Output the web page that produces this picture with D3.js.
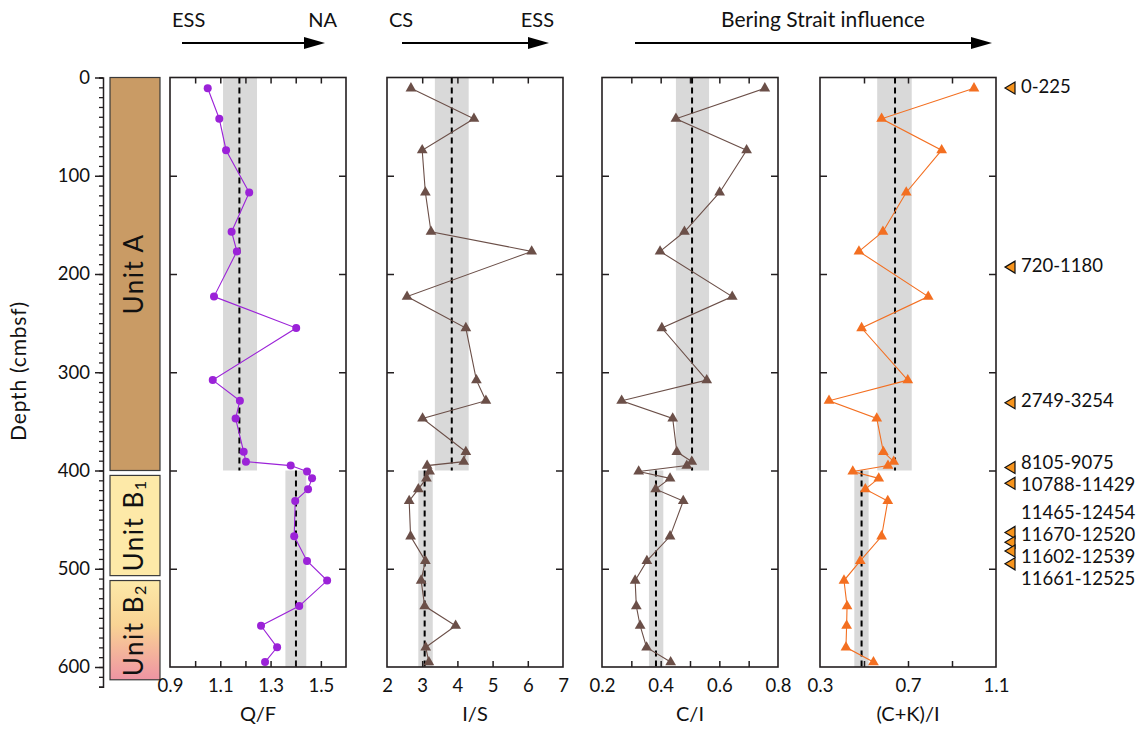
<!DOCTYPE html>
<html>
<head>
<meta charset="utf-8">
<script src="https://cdn.jsdelivr.net/npm/d3@7"></script>
<style>
  html, body { margin: 0; padding: 0; background: #fff; }
  svg { display: block; font-family: Lato, "Open Sans", sans-serif; }
</style>
</head>
<body>
<svg id="chart" width="1146" height="729"></svg>
<script>
// Sample depths (cmbsf), shared by all four proxy records
const depths = [11, 42, 74, 117, 157, 177, 223, 255, 308, 329, 347, 381, 391, 395, 401, 408, 419, 431, 467, 492, 512, 538, 558, 580, 595];

// Proxy records
const qf  = [1.05, 1.096, 1.123, 1.215, 1.145, 1.166, 1.075, 1.402, 1.07, 1.178, 1.161, 1.193, 1.202, 1.38, 1.445, 1.465, 1.449, 1.398, 1.394, 1.445, 1.525, 1.414, 1.262, 1.326, 1.278];
const is  = [2.68, 4.47, 3.0, 3.09, 3.25, 6.11, 2.57, 4.24, 4.54, 4.81, 3.01, 4.24, 4.18, 3.14, 3.21, 3.12, 2.89, 2.63, 2.67, 3.09, 2.97, 3.07, 3.95, 3.1, 3.19];
const ci  = [0.755, 0.452, 0.693, 0.601, 0.481, 0.398, 0.644, 0.404, 0.557, 0.267, 0.441, 0.455, 0.506, 0.489, 0.325, 0.432, 0.383, 0.477, 0.432, 0.353, 0.313, 0.317, 0.33, 0.352, 0.434];
const cki = [1.0, 0.58, 0.853, 0.692, 0.586, 0.477, 0.792, 0.489, 0.699, 0.341, 0.558, 0.588, 0.635, 0.609, 0.449, 0.567, 0.506, 0.608, 0.58, 0.483, 0.409, 0.423, 0.421, 0.418, 0.543];

// Axis titles, domains, tick steps and labelled ticks
const titles     = ["Q/F", "I/S", "C/I", "(C+K)/I"];
const domains    = [[0.9, 1.6], [2, 7], [0.2, 0.8], [0.3, 1.1]];
const tickSteps  = [0.1, 1, 0.1, 0.2];
const tickLabels = [["0.9", "1.1", "1.3", "1.5"], ["2", "3", "4", "5", "6", "7"], ["0.2", "0.4", "0.6", "0.8"], ["0.3", "0.7", "1.1"]];

// Unit means and ranges (Unit A: 0-400 cm, Unit B: 400-600 cm)
const unitAMean  = [1.176, 3.84, 0.507, 0.641];
const unitARange = [[1.111, 1.246], [3.36, 4.32], [0.452, 0.565], [0.56, 0.717]];
const unitBMean  = [1.401, 3.07, 0.384, 0.489];
const unitBRange = [[1.359, 1.442], [2.89, 3.30], [0.360, 0.409], [0.456, 0.521]];
const unitBreaks = [0, 400, 600];

// Lithological units
const unitNames = ["A", "B", "B"];
const unitSubs  = ["", "1", "2"];
const unitTops  = [0, 405, 512];
const unitBots  = [400, 507, 613];

// Radiocarbon ages (cal yr BP) and their depths
const ageLabels = ["0-225", "720-1180", "2749-3254", "8105-9075", "10788-11429", "11465-12454", "11670-12520", "11602-12539", "11661-12525"];
const ageDepths = [10.7, 193, 331, 397, 413, 463, 473, 482, 495];

// Provenance direction headers
const arrowLabelsL = ["ESS", "CS", ""];
const arrowLabelsR = ["NA", "ESS", ""];
const arrowTitle   = ["", "", "Bering Strait influence"];

// ---------------- drawing ----------------
const svg = d3.select("#chart");
const series = [qf, is, ci, cki];
const colors = ["#9b22d8", "#6b4f48", "#6b4f48", "#f36f21"];
const markers = ["circle", "triangle", "triangle", "triangle"];

const panelLefts = [170, 387, 602, 820];
const panelW = 176;
const plotTop = 77.5, plotBottom = 667;

const y = d3.scaleLinear().domain([0, 600]).range([plotTop, plotBottom]);
const yAxisScale = d3.scaleLinear().domain([0, 620]).range([plotTop, y(620)]);

const frameColor = "#231f20";
const textColor = "#111";

// Depth axis
const axisX = 103;
const depthAxis = svg.append("g").attr("transform", `translate(${axisX},0)`);
depthAxis.call(d3.axisLeft(yAxisScale).tickValues(d3.range(0, 621, 10)).tickSize(4).tickFormat(""))
  .call(g => g.selectAll("line").attr("stroke", frameColor).attr("stroke-width", 1.3))
  .call(g => g.select(".domain").attr("stroke", frameColor).attr("stroke-width", 1.5));
depthAxis.append("g").call(d3.axisLeft(yAxisScale).tickValues(d3.range(0, 601, 100)).tickSize(8).tickPadding(5))
  .call(g => g.select(".domain").remove())
  .call(g => g.selectAll("line").attr("stroke", frameColor).attr("stroke-width", 1.5))
  .call(g => g.selectAll("text").attr("font-size", 18.5).attr("fill", textColor).attr("font-family", "Lato, sans-serif"));

svg.append("text")
  .attr("transform", `translate(21,371) rotate(-90)`)
  .attr("text-anchor", "middle").attr("dominant-baseline", "middle")
  .attr("font-size", 21).attr("letter-spacing", 0.8).attr("fill", textColor)
  .text("Depth (cmbsf)");

// Unit column
const defs = svg.append("defs");
const grad = defs.append("linearGradient").attr("id", "unitB2").attr("x1", 0).attr("x2", 0).attr("y1", 0).attr("y2", 1);
grad.append("stop").attr("offset", "0%").attr("stop-color", "#fde9a8");
grad.append("stop").attr("offset", "45%").attr("stop-color", "#f9d394");
grad.append("stop").attr("offset", "100%").attr("stop-color", "#ee94a3");
const unitFills = ["#c99b65", "#fde9a8", "url(#unitB2)"];

const unitCol = svg.append("g");
unitNames.forEach((n, i) => {
  const y0 = y(unitTops[i]), y1 = y(unitBots[i]);
  unitCol.append("rect")
    .attr("x", 110).attr("y", y0).attr("width", 50).attr("height", y1 - y0)
    .attr("fill", unitFills[i]).attr("stroke", "#3a3a3a").attr("stroke-width", 1.2);
  const t = unitCol.append("text")
    .attr("transform", `translate(136,${(y0 + y1) / 2}) rotate(-90)`)
    .attr("text-anchor", "middle").attr("dominant-baseline", "middle")
    .attr("font-size", 26).attr("letter-spacing", 1.5).attr("fill", textColor);
  t.append("tspan").text("Unit " + n);
  if (unitSubs[i]) t.append("tspan").attr("font-size", 16).attr("dy", 6).text(unitSubs[i]);
});

// Proxy panels
const triangle = d3.symbol().type(d3.symbolTriangle).size(50);
series.forEach((vals, p) => {
  const x0 = panelLefts[p];
  const x = d3.scaleLinear().domain(domains[p]).range([x0, x0 + panelW]);
  const g = svg.append("g");

  // unit ranges as grey bands
  [[unitARange, unitBreaks[0], unitBreaks[1]], [unitBRange, unitBreaks[1], unitBreaks[2]]].forEach(([r, d0, d1]) => {
    g.append("rect")
      .attr("x", x(r[p][0])).attr("y", y(d0))
      .attr("width", x(r[p][1]) - x(r[p][0])).attr("height", y(d1) - y(d0))
      .attr("fill", "#d9d9d9");
  });
  [[unitAMean, unitBreaks[0], unitBreaks[1]], [unitBMean, unitBreaks[1], unitBreaks[2]]].forEach(([m, d0, d1]) => {
    g.append("line")
      .attr("x1", x(m[p])).attr("x2", x(m[p]))
      .attr("y1", y(d0)).attr("y2", y(d1))
      .attr("stroke", "#000").attr("stroke-width", 2).attr("stroke-dasharray", "6,4");
  });

  // ticks
  const tv = d3.range(domains[p][0], domains[p][1] + 1e-9, tickSteps[p]).map(v => +v.toFixed(3));
  const inner = tv.slice(1, -1);
  g.append("g").attr("transform", `translate(0,${plotTop})`)
    .call(d3.axisTop(x).tickValues(inner).tickSize(-6).tickFormat(""))
    .call(a => a.select(".domain").remove())
    .call(a => a.selectAll("line").attr("stroke", frameColor).attr("stroke-width", 1.5));
  const labelSet = new Set(tickLabels[p]);
  const fmt = d3.format(tickSteps[p] < 1 ? ".1f" : "d");
  g.append("g").attr("transform", `translate(0,${plotBottom})`)
    .call(d3.axisBottom(x).tickValues(tv).tickSize(-6).tickPadding(12)
      .tickFormat(v => labelSet.has(fmt(v)) ? fmt(v) : ""))
    .call(a => a.select(".domain").remove())
    .call(a => a.selectAll("line").attr("stroke", frameColor).attr("stroke-width", 1.5))
    .call(a => a.selectAll("line").filter((d, i) => i === 0 || i === tv.length - 1).remove())
    .call(a => a.selectAll("text").attr("font-size", 18.5).attr("fill", textColor).attr("font-family", "Lato, sans-serif"));
  const dTicks = d3.range(100, 600, 100);
  g.append("g").attr("transform", `translate(${x0},0)`)
    .call(d3.axisLeft(y).tickValues(dTicks).tickSize(-7).tickFormat(""))
    .call(a => a.select(".domain").remove())
    .call(a => a.selectAll("line").attr("stroke", frameColor).attr("stroke-width", 1.5));
  g.append("g").attr("transform", `translate(${x0 + panelW},0)`)
    .call(d3.axisRight(y).tickValues(dTicks).tickSize(-7).tickFormat(""))
    .call(a => a.select(".domain").remove())
    .call(a => a.selectAll("line").attr("stroke", frameColor).attr("stroke-width", 1.5));

  // frame
  g.append("rect")
    .attr("x", x0).attr("y", plotTop).attr("width", panelW).attr("height", plotBottom - plotTop)
    .attr("fill", "none").attr("stroke", frameColor).attr("stroke-width", 1.6);

  // record
  const pts = depths.map((d, i) => [x(vals[i]), y(d)]);
  g.append("path").attr("d", d3.line()(pts))
    .attr("fill", "none").attr("stroke", colors[p]).attr("stroke-width", 1.1);
  if (markers[p] === "circle") {
    g.selectAll("circle.pt").data(pts).join("circle")
      .attr("cx", d => d[0]).attr("cy", d => d[1]).attr("r", 4)
      .attr("fill", colors[p]);
  } else {
    g.selectAll("path.pt").data(pts).join("path")
      .attr("class", "pt")
      .attr("transform", d => `translate(${d[0]},${d[1]})`)
      .attr("d", triangle).attr("fill", colors[p]);
  }

  // axis title
  svg.append("text")
    .attr("x", x0 + panelW / 2).attr("y", 716)
    .attr("text-anchor", "middle").attr("dominant-baseline", "middle")
    .attr("font-size", 20).attr("fill", textColor)
    .text(titles[p]);
});

// Provenance arrows
const arrowSpans = [[182, 325, 170, 346], [402, 549, 387, 563], [635, 992, 635, 992]];
const arrows = svg.append("g");
arrowSpans.forEach(([a0, a1, t0, t1], i) => {
  const ay = 43;
  arrows.append("line").attr("x1", a0).attr("x2", a1 - 18).attr("y1", ay).attr("y2", ay)
    .attr("stroke", "#000").attr("stroke-width", 2);
  arrows.append("path")
    .attr("d", `M${a1},${ay} L${a1 - 21},${ay - 6} L${a1 - 21},${ay + 6} Z`)
    .attr("fill", "#000");
  const ty = 22;
  if (arrowLabelsL[i]) arrows.append("text").attr("x", t0 + 2).attr("y", ty)
    .attr("dominant-baseline", "middle").attr("font-size", 20).attr("fill", textColor).text(arrowLabelsL[i]);
  if (arrowLabelsR[i]) arrows.append("text").attr("x", t1 - 9).attr("y", ty).attr("text-anchor", "end")
    .attr("dominant-baseline", "middle").attr("font-size", 20).attr("fill", textColor).text(arrowLabelsR[i]);
  if (arrowTitle[i]) arrows.append("text").attr("x", 823).attr("y", ty).attr("text-anchor", "middle")
    .attr("dominant-baseline", "middle").attr("font-size", 21).attr("fill", textColor).text(arrowTitle[i]);
});

// Age markers with labels spread apart where they crowd together
const ageG = svg.append("g");
const markY = ageDepths.map(d => y(d));
const lineH = 22;
const labelY = markY.slice();
const clusters = [];
markY.forEach((v, i) => {
  const last = clusters[clusters.length - 1];
  if (last && v - markY[last[last.length - 1]] < lineH) last.push(i);
  else clusters.push([i]);
});
clusters.forEach(c => {
  const mean = d3.mean(c, i => markY[i]);
  c.forEach((i, k) => { labelY[i] = mean + (k - (c.length - 1) / 2) * lineH; });
});
ageLabels.forEach((lab, i) => {
  const my = markY[i], mx = 1005;
  ageG.append("path")
    .attr("d", `M${mx},${my} L${mx + 10},${my - 6} L${mx + 10},${my + 6} Z`)
    .attr("fill", "#f7941d").attr("stroke", "#111").attr("stroke-width", 1.2).attr("stroke-linejoin", "miter");
  ageG.append("text").attr("x", 1021).attr("y", labelY[i])
    .attr("dominant-baseline", "middle").attr("font-size", 18.5).attr("fill", textColor).text(lab);
});
</script>
</body>
</html>
